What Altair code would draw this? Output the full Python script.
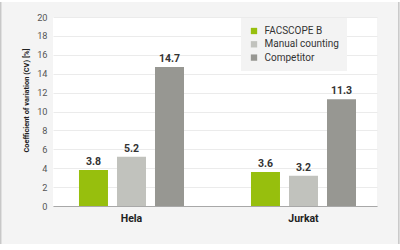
import altair as alt
import pandas as pd

categories = ["Hela", "Jurkat"]
series = ["FACSCOPE B", "Manual counting", "Competitor"]
facscope_b = [3.8, 3.6]
manual_counting = [5.2, 3.2]
competitor = [14.7, 11.3]
colors = ["#97bf0d", "#c1c2bd", "#979792"]
y_ticks = [0, 2, 4, 6, 8, 10, 12, 14, 16, 18, 20]

rows = []
for i, c in enumerate(categories):
    for s, vals in zip(series, [facscope_b, manual_counting, competitor]):
        rows.append({"cell": c, "series": s, "value": vals[i], "label": f"{vals[i]:.1f}"})
df = pd.DataFrame(rows)

W, H = 324, 189
FONT = "Roboto"

x_enc = alt.X("cell:N", sort=categories,
              scale=alt.Scale(paddingInner=0.3895, paddingOuter=0.1366, align=0.553),
              axis=alt.Axis(title=None, labelAngle=0, labelFont=FONT, labelFontSize=10.5,
                            labelFontWeight="bold", labelColor="#222222", labelPadding=7,
                            ticks=False, domainColor="#a8a8a8", domainWidth=1.2, grid=False))
xo_enc = alt.XOffset("series:N", sort=series,
                     scale=alt.Scale(paddingInner=0.237, paddingOuter=0))
y_enc = alt.Y("value:Q", scale=alt.Scale(domain=[0, 20], nice=False),
              axis=alt.Axis(title="Coefficient of variation (CV) [%]", values=y_ticks,
                            titleFont=FONT, titleFontSize=7.4, titleFontWeight="bold",
                            titleColor="#222222", titleX=-27, titleY=83,
                            titleBaseline="middle", titleAngle=270,
                            labelFont=FONT, labelFontSize=9.2, labelColor="#555555",
                            labelOverlap=False, labelPadding=6, ticks=False, domain=False,
                            grid=True, gridColor="#ebebeb", gridWidth=1))
color_enc = alt.Color("series:N", sort=series,
                      scale=alt.Scale(domain=series, range=colors),
                      legend=alt.Legend(title=None, orient="none", legendX=188, legendY=1,
                                        fillColor="#f3f3f3", padding=8, rowPadding=3.3,
                                        symbolType="square", symbolSize=40,
                                        symbolStrokeWidth=0, labelFont=FONT,
                                        labelFontSize=10, labelColor="#333333",
                                        labelOffset=5.5))

one = pd.DataFrame({"d": [0]})
deco_bg_top = alt.Chart(one).mark_rect(color="white").encode(
    x=alt.value(-53), x2=alt.value(347), y=alt.value(-17), y2=alt.value(-15))
deco_bg_bot = alt.Chart(one).mark_rect(color="white").encode(
    x=alt.value(-53), x2=alt.value(347), y=alt.value(227), y2=alt.value(233))
border_l = alt.Chart(one).mark_rule(color="#c8c8c8", strokeWidth=1.5).encode(
    x=alt.value(-52.3), y=alt.value(-15), y2=alt.value(227))
border_r = alt.Chart(one).mark_rule(color="#c8c8c8", strokeWidth=1.5).encode(
    x=alt.value(345.8), y=alt.value(-15), y2=alt.value(227))

bars = alt.Chart(df).mark_bar().encode(x=x_enc, xOffset=xo_enc, y=y_enc, color=color_enc)
labels = alt.Chart(df).mark_text(baseline="bottom", dy=-3, font=FONT, fontSize=10.5,
                                 fontWeight="bold", color="#333333").encode(
    x=x_enc, xOffset=xo_enc, y=y_enc, text="label:N")

chart = alt.layer(deco_bg_top, deco_bg_bot, border_l, border_r, bars, labels).properties(
    width=W, height=H,
    background="#f4f4f4",
    padding={"left": 53, "top": 17, "right": 23, "bottom": 44},
    autosize=alt.AutoSizeParams(type="none"),
).configure_view(fill="white", stroke=None)

chart.save("out.html", embed_options={"renderer": "svg", "actions": False})
